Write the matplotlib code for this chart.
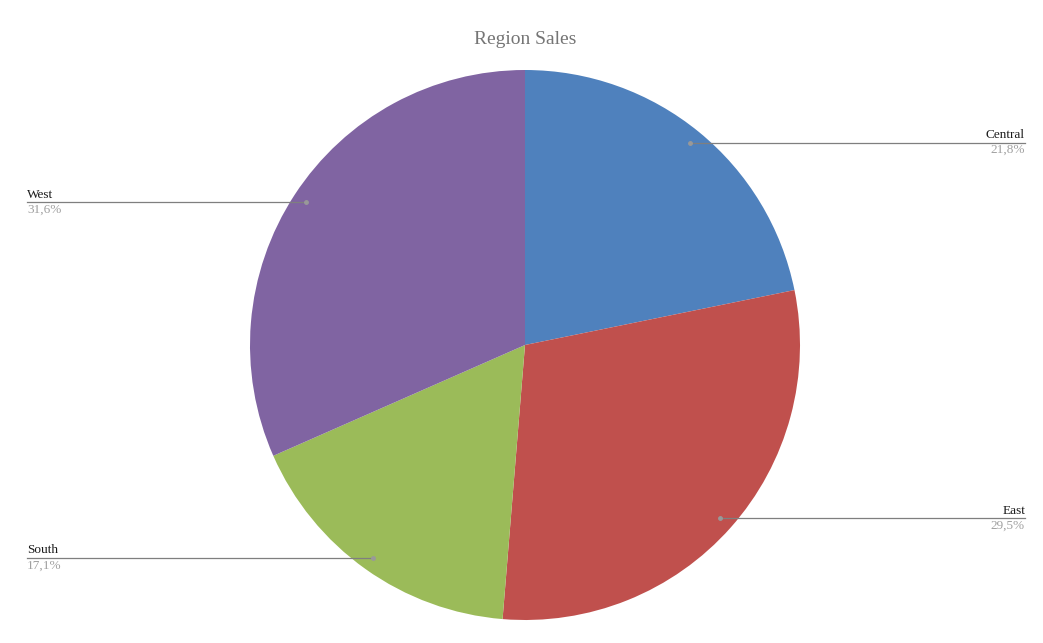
import numpy as np
import matplotlib.pyplot as plt

regions = ['Central', 'East', 'South', 'West']
shares = [21.8, 29.5, 17.1, 31.6]
colors = ['#4F81BD', '#C0504D', '#9BBB59', '#8064A2']

W, H = 1043, 643
cx, cy, r = 525, H - 345, 275

plt.rcParams['font.family'] = ['Liberation Serif', 'DejaVu Serif']

fig = plt.figure(figsize=(W / 100, H / 100), dpi=100)
ax = fig.add_axes([0, 0, 1, 1])

wedges, _ = ax.pie(shares, colors=colors, startangle=90, counterclock=False,
                   center=(cx, cy), radius=r, frame=True,
                   wedgeprops=dict(linewidth=0))
ax.set_xlim(0, W)
ax.set_ylim(0, H)
ax.set_aspect('equal')
ax.axis('off')

total = sum(shares)
for w, name, val in zip(wedges, regions, shares):
    mid = np.deg2rad((w.theta1 + w.theta2) / 2)
    px = cx + 0.95 * r * np.cos(mid)
    py = cy + 0.95 * r * np.sin(mid)
    right = np.cos(mid) > 0
    ex = 1025 if right else 27
    ax.plot([px, ex], [py, py], color='#7f7f7f', lw=0.9)
    ax.plot(px, py, 'o', color='#999999', ms=2.5)
    ha = 'right' if right else 'left'
    ax.text(ex, py + 1.5, name, ha=ha, va='bottom', fontsize=9.5, color='#1a1a1a')
    pct = ('%.1f%%' % (val / total * 100)).replace('.', ',')
    ax.text(ex, py - 1.5, pct, ha=ha, va='top', fontsize=9.5, color='#a0a0a0')

fig.text(cx / W, 1 - 39 / H, 'Region Sales', ha='center', va='center',
         fontsize=14, color='#757575')

fig.savefig('out.png', dpi=100)
